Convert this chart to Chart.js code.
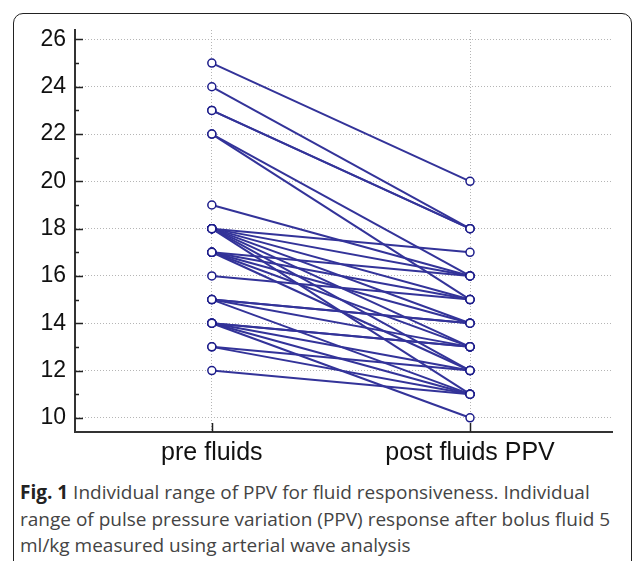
<!DOCTYPE html>
<html>
<head>
<meta charset="utf-8">
<script src="https://cdn.jsdelivr.net/npm/chart.js@4.4.0/dist/chart.umd.min.js"></script>
<style>
  body { margin: 0; width: 635px; height: 561px; overflow: hidden; background: #fff; position: relative; }
  #frame { position: absolute; left: 13px; top: 13px; width: 617px; height: 600px; border: 1.5px solid #222; border-radius: 10px; }
  #wrap { position: absolute; left: 0; top: 0; width: 635px; height: 470px; }
  #caption { position: absolute; left: 20px; top: 479px; width: 612px; font-family: "Open Sans"; font-size: 19px; line-height: 26.5px; color: #444; white-space: nowrap; }
  #caption b { color: #222; }
</style>
</head>
<body>
<div id="frame"></div>
<div id="wrap"><canvas id="ppv_chart" width="635" height="470"></canvas></div>
<div id="caption"><b>Fig. 1</b> Individual range of PPV for fluid responsiveness. Individual<br>range of pulse pressure variation (PPV) response after bolus fluid 5<br>ml/kg measured using arterial wave analysis</div>
<script>
// one entry per patient
const groups = ["pre fluids", "post fluids PPV"];
const preFluids = [25, 24, 23, 23, 22, 22, 19, 18, 18, 18, 18, 18, 18, 18, 17, 17, 17, 17, 17, 16, 15, 15, 15, 15, 14, 14, 14, 14, 14, 13, 13, 12];
const postFluids = [20, 18, 18, 18, 16, 15, 16, 17, 16, 15, 14, 13, 12, 11, 16, 15, 14, 13, 12, 15, 14, 14, 13, 11, 13, 13, 12, 11, 10, 12, 11, 11];
const yTicks = [10, 12, 14, 16, 18, 20, 22, 24, 26];

const lineColor = "#333399";
const dotColor = "#1c1c8a";

let allPoints = [];
preFluids.forEach((v, i) => {
  allPoints.push({ x: 0, y: v });
  allPoints.push({ x: 1, y: postFluids[i] });
});

// points first so they sit on top of every line
let datasets = [
  {
    data: allPoints,
    showLine: false,
    pointRadius: 4,
    pointBorderWidth: 1.5,
    pointBackgroundColor: "#fff",
    pointBorderColor: dotColor,
  },
];
preFluids.forEach((v, i) => {
  datasets.push({
    data: [
      { x: 0, y: v },
      { x: 1, y: postFluids[i] },
    ],
    showLine: true,
    borderColor: lineColor,
    borderWidth: 2,
    pointRadius: 0,
  });
});

// tick marks point inward in the original
const innerTicks = {
  id: "innerTicks",
  afterDraw(chart) {
    const c = chart.ctx;
    const x = chart.scales.x;
    const y = chart.scales.y;
    c.save();
    c.strokeStyle = "#222";
    c.lineWidth = 1.5;
    c.beginPath();
    for (let v = Math.ceil(y.min); v <= y.max; v++) {
      const py = Math.round(y.getPixelForValue(v)) + 0.5;
      const len = yTicks.includes(v) ? 8 : 4;
      c.moveTo(y.right, py);
      c.lineTo(y.right + len, py);
    }
    [0, 1].forEach((v) => {
      const px = Math.round(x.getPixelForValue(v)) + 0.5;
      c.moveTo(px, x.top);
      c.lineTo(px, x.top - 9);
    });
    c.stroke();
    c.restore();
  },
};

let ctx = document.getElementById("ppv_chart").getContext("2d");
let myChart = new Chart(ctx, {
  type: "scatter",
  data: { datasets: datasets },
  plugins: [innerTicks],
  options: {
    responsive: false,
    animation: false,
    layout: {
      padding: { top: 30, right: 23, left: 0, bottom: 0 },
    },
    plugins: {
      legend: { display: false },
      tooltip: { enabled: false },
    },
    scales: {
      x: {
        type: "linear",
        min: -0.53,
        max: 1.55,
        afterBuildTicks: (s) => {
          s.ticks = [{ value: 0 }, { value: 1 }];
        },
        afterFit: (s) => {
          s.height = 38;
        },
        ticks: {
          callback: (v) => groups[v],
          font: { family: "Liberation Sans", size: 25 },
          color: "#111",
          padding: 6,
          maxRotation: 0,
        },
        grid: { color: "#b5b5b5", lineWidth: 1, drawTicks: false },
        border: { display: true, color: "#333", width: 2, dash: [1, 2] },
      },
      y: {
        min: 9.4,
        max: 26.4,
        afterBuildTicks: (s) => {
          s.ticks = yTicks.map((v) => ({ value: v }));
        },
        afterFit: (s) => {
          s.width = 75;
        },
        ticks: {
          font: { family: "Liberation Sans", size: 23 },
          color: "#111",
          padding: 9,
        },
        grid: { color: "#b5b5b5", lineWidth: 1, drawTicks: false },
        border: { display: true, color: "#333", width: 2, dash: [1, 2] },
      },
    },
  },
});
</script>
</body>
</html>
